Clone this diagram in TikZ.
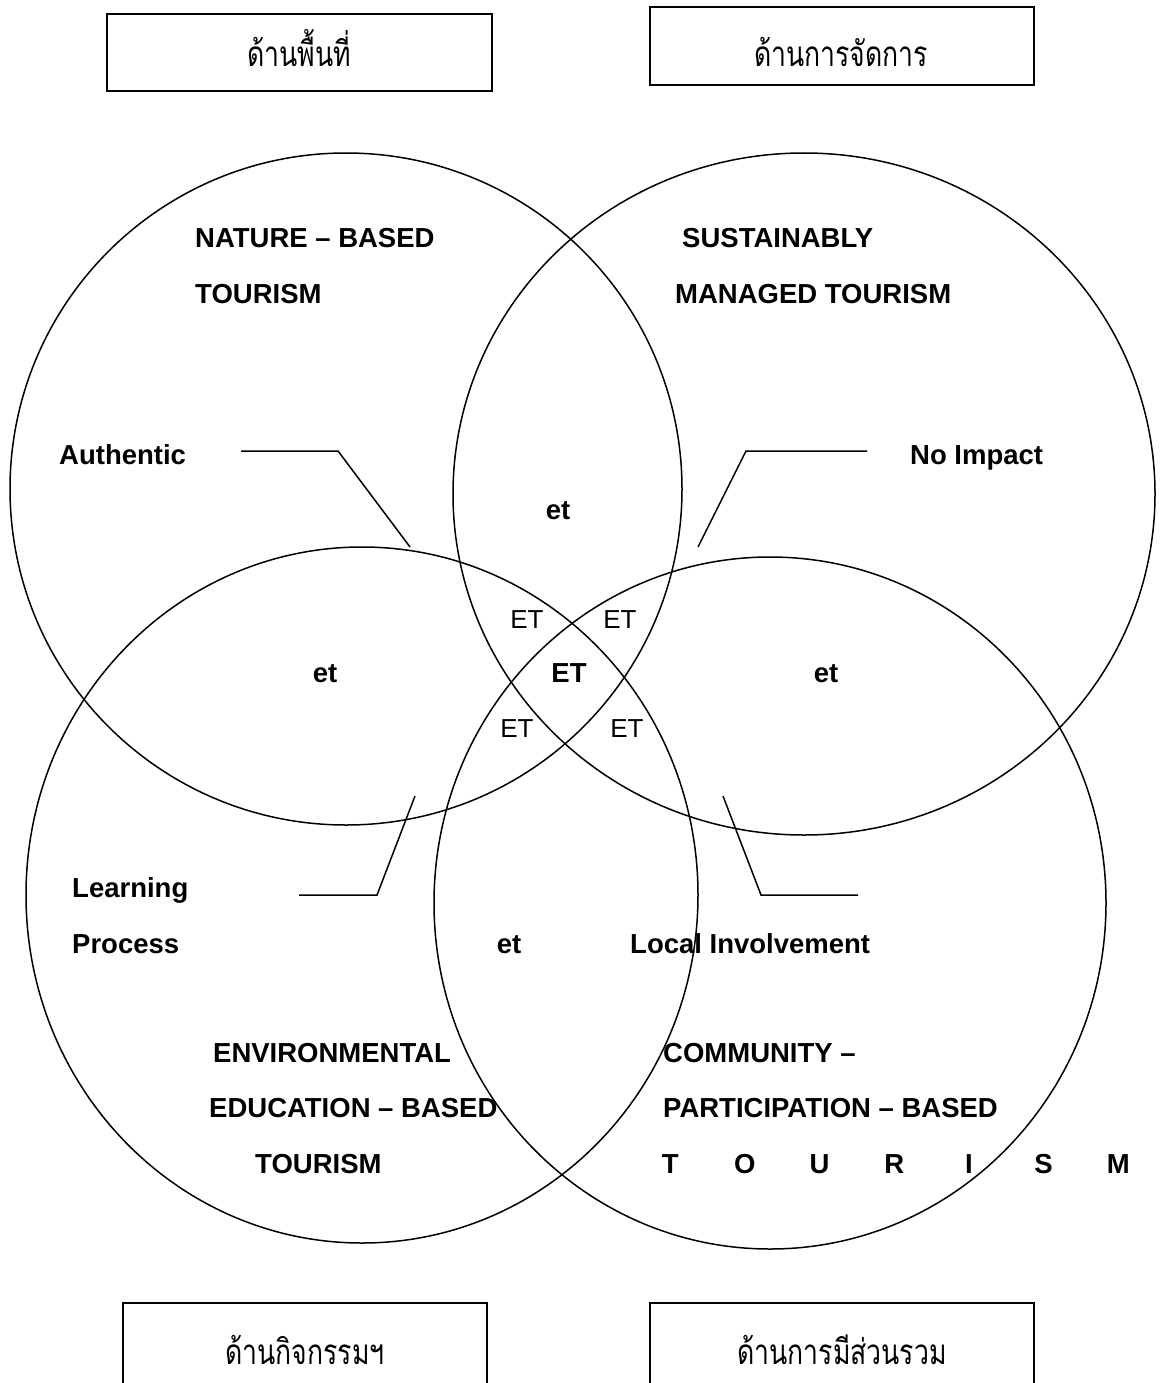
\documentclass[tikz,border=0pt]{standalone}
\usepackage{graphicx}
\usepackage{fontspec}
\setmainfont{Liberation Sans}
\newfontfamily\thaifont[Script=Thai]{Loma}
\newcommand{\thtall}[1]{\scalebox{0.95}[1.25]{#1}}
\begin{document}
\begin{tikzpicture}[x=1pt,y=-1pt,
  ring/.style={draw,line width=1.5pt},
  lbl/.style={font=\fontsize{27.5}{30}\selectfont\bfseries, inner sep=0pt, anchor=base west},
  ctr/.style={font=\fontsize{27.5}{30}\selectfont\bfseries, inner sep=0pt, anchor=base},
  sml/.style={font=\fontsize{26}{30}\selectfont, inner sep=0pt, anchor=base},
  thbox/.style={draw, line width=2.4pt},
  thtxt/.style={font=\fontsize{28}{32}\thaifont, inner sep=0pt, anchor=base},
  leader/.style={line width=1.5pt}]
\useasboundingbox (0,0) rectangle (1159,1383);
\clip (0,0) rectangle (1159,1383);
\fill[white] (0,0) rectangle (1159,1383);

% category boxes
\draw[thbox] (107,14) rectangle (492,91);
\node[thtxt] (t1) at (299,67) {\thtall{ด้านพื้นที่}};
\draw[thbox] (650,7) rectangle (1034,85);
\node[thtxt] (t2) at (841,67) {\thtall{ด้านการจัดการ}};
\draw[thbox] (123,1303) rectangle (487,1420);
\node[thtxt] (t3) at (305,1364) {\thtall{ด้านกิจกรรมฯ}};
\draw[thbox] (650,1303) rectangle (1034,1420);
\node[thtxt] (t4) at (842,1364) {\thtall{ด้านการมีส่วนรวม}};

% circles
\draw[ring] (346,489) ellipse [x radius=336pt, y radius=336pt];
\draw[ring] (804,494) ellipse [x radius=351pt, y radius=341pt];
\draw[ring] (362,895) ellipse [x radius=336pt, y radius=348pt];
\draw[ring] (770,903) ellipse [x radius=336pt, y radius=346pt];

% titles
\node[lbl] (nat1) at (195,247) {NATURE – BASED};
\node[lbl] (nat2) at (195,303) {TOURISM};
\node[lbl] (sus1) at (682,247) {SUSTAINABLY};
\node[lbl] (sus2) at (675,303) {MANAGED TOURISM};
\node[lbl] (env1) at (213,1062) {ENVIRONMENTAL};
\node[lbl] (env2) at (209,1117) {EDUCATION – BASED};
\node[lbl] (env3) at (255,1173) {TOURISM};
\node[lbl] (com1) at (663,1062) {COMMUNITY –};
\node[lbl] (com2) at (663,1117) {PARTICIPATION – BASED};
\node[lbl] (com3) at (632.6,1173) {\makebox[74.7pt]{T}\makebox[74.7pt]{O}\makebox[74.7pt]{U}\makebox[74.7pt]{R}\makebox[74.7pt]{I}\makebox[74.7pt]{S}\makebox[74.7pt]{M}};

% side labels
\node[lbl] (auth) at (59,464) {Authentic};
\node[lbl] (noimp) at (910,464) {No Impact};
\node[lbl] (learn) at (72,897) {Learning};
\node[lbl] (proc) at (72,953) {Process};
\node[lbl] (local) at (630,953) {Local Involvement};

% overlap labels
\node[ctr] (et1) at (558,519) {et};
\node[ctr] (et2) at (325,682) {et};
\node[ctr] (et3) at (826,682) {et};
\node[ctr] (et4) at (509,953) {et};
\node[ctr] (etc) at (569,682) {ET};
\node[sml] (e1) at (527,628) {ET};
\node[sml] (e2) at (620,628) {ET};
\node[sml] (e3) at (517,737) {ET};
\node[sml] (e4) at (627,737) {ET};

% leader lines
\coordinate (a1) at (241,451); \coordinate (a2) at (338,451); \coordinate (a3) at (410,547);
\draw[leader] (a1) -- (a2) -- (a3);
\coordinate (b1) at (867,451); \coordinate (b2) at (746,451); \coordinate (b3) at (698,547);
\draw[leader] (b1) -- (b2) -- (b3);
\coordinate (c1) at (299,895); \coordinate (c2) at (377,895); \coordinate (c3) at (415,796);
\draw[leader] (c1) -- (c2) -- (c3);
\coordinate (d1) at (858,895); \coordinate (d2) at (761,895); \coordinate (d3) at (723,796);
\draw[leader] (d1) -- (d2) -- (d3);
\end{tikzpicture}
\end{document}
